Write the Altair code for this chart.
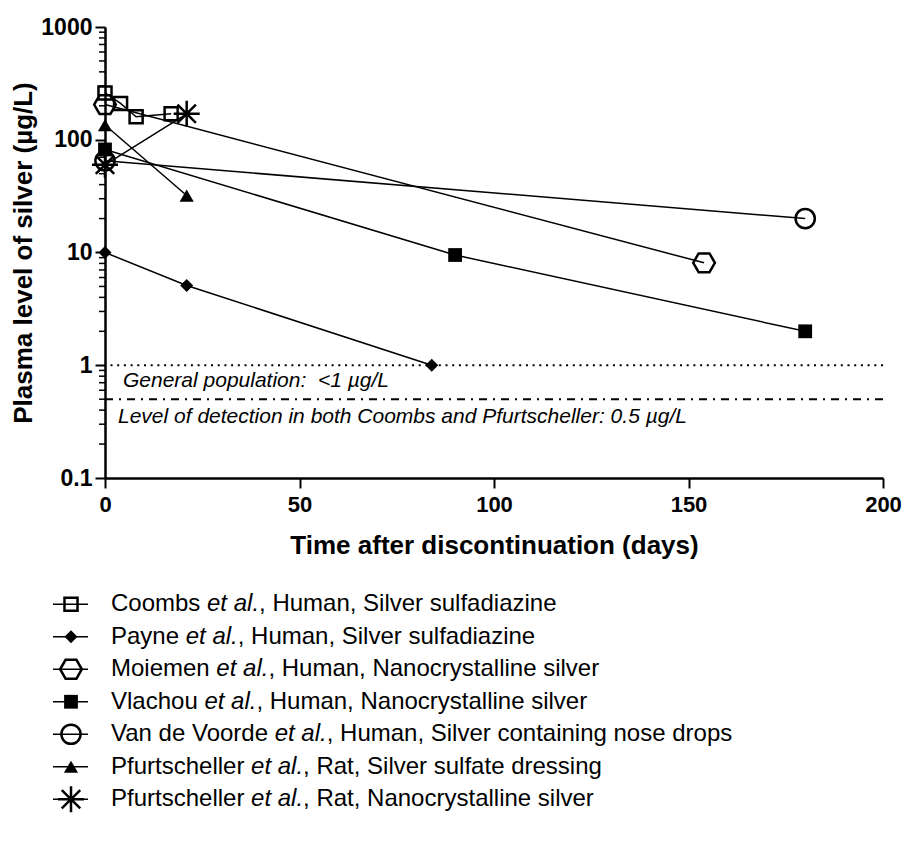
import altair as alt
import pandas as pd

# ---------------- data ----------------
authors = ["Coombs", "Payne", "Moiemen", "Vlachou", "Van de Voorde", "Pfurtscheller", "Pfurtscheller"]
details = [", Human, Silver sulfadiazine", ", Human, Silver sulfadiazine",
           ", Human, Nanocrystalline silver", ", Human, Nanocrystalline silver",
           ", Human, Silver containing nose drops", ", Rat, Silver sulfate dressing",
           ", Rat, Nanocrystalline silver"]

coombs_days = [0, 4, 8, 17]
coombs_vals = [260, 210, 160, 170]
payne_days = [0, 21, 84]
payne_vals = [10, 5.1, 1]
moiemen_days = [0, 154]
moiemen_vals = [205, 8.1]
vlachou_days = [0, 90, 180]
vlachou_vals = [82, 9.5, 2]
voorde_days = [0, 180]
voorde_vals = [65, 20]
pf_sulfate_days = [0, 21]
pf_sulfate_vals = [135, 32]
pf_nano_days = [0, 21]
pf_nano_vals = [60, 170]

y_ticks = [0.1, 1, 10, 100, 1000]
x_ticks = [0, 50, 100, 150, 200]
general_level = 1
detection_level = 0.5
general_text = "General population: \u00a0<1 µg/L"
detection_text = "Level of detection in both Coombs and Pfurtscheller: 0.5 µg/L"

# ---------------- styling ----------------
FONT = "Liberation Sans"
HEX = "M-1,0L-0.5,-0.866L0.5,-0.866L1,0L0.5,0.866L-0.5,0.866Z"
STAR = ("M-1,0L1,0M0,-1L0,1M-0.7071,-0.7071L0.7071,0.7071"
        "M-0.7071,0.7071L0.7071,-0.7071")
styles = [
    dict(shape="square", size=170, filled=False),
    dict(shape="diamond", size=170, filled=True),
    dict(shape=HEX, size=470, filled=False),
    dict(shape="square", size=190, filled=True),
    dict(shape="circle", size=370, filled=False),
    dict(shape="triangle-up", size=200, filled=True),
    dict(shape=STAR, size=680, filled=False),
]

series_days = [coombs_days, payne_days, moiemen_days, vlachou_days, voorde_days,
               pf_sulfate_days, pf_nano_days]
series_vals = [coombs_vals, payne_vals, moiemen_vals, vlachou_vals, voorde_vals,
               pf_sulfate_vals, pf_nano_vals]
keys = [f"s{i}" for i in range(len(authors))]

rows = []
for k, d, v in zip(keys, series_days, series_vals):
    for dd, vv in zip(d, v):
        rows.append({"key": k, "day": dd, "val": vv})
df = pd.DataFrame(rows)

minor = [m * 10.0 ** e for e in range(-1, 3) for m in range(2, 10)]
minor_df = pd.DataFrame({"v": minor})

W, H = 778, 451
xs = alt.Scale(domain=[0, 200], nice=False)
ys = alt.Scale(type="log", domain=[0.1, 1000], nice=False)

x_enc = alt.X("day:Q", scale=xs, axis=alt.Axis(
    values=x_ticks, title="Time after discontinuation (days)", format="d",
    tickSize=10, tickWidth=2, domainWidth=2.5, labelPadding=6, titlePadding=17,
    labelFontSize=22, labelFontWeight="bold", titleFontSize=26, titleFontWeight="bold",
    grid=False, labelFlush=False))
y_enc = alt.Y("val:Q", scale=ys, axis=alt.Axis(
    values=y_ticks, title="Plasma level of silver (µg/L)", format="~g",
    tickSize=10, tickWidth=2, domainWidth=2.5, labelPadding=3, titlePadding=4,
    labelFontSize=23, labelFontWeight="bold", titleFontSize=26, titleFontWeight="bold",
    grid=False, labelFlush=False))

base = alt.Chart(df)
lines = base.mark_line(color="black", strokeWidth=1.5).encode(
    x=x_enc, y=y_enc, detail="key:N", order="day:Q")

point_layers = []
for k, st in zip(keys, styles):
    p = base.transform_filter(alt.datum.key == k).mark_point(
        shape=st["shape"], size=st["size"], filled=st["filled"], color="black",
        strokeWidth=2.5, opacity=1, fill="black" if st["filled"] else "transparent"
    ).encode(x=alt.X("day:Q", scale=xs), y=alt.Y("val:Q", scale=ys))
    point_layers.append(p)

minor_ticks = alt.Chart(minor_df).mark_rule(color="black", strokeWidth=1.5).encode(
    y=alt.Y("v:Q", scale=ys), x=alt.value(0), x2=alt.value(-6))

gen_rule = alt.Chart(pd.DataFrame({"v": [general_level]})).mark_rule(
    color="black", strokeWidth=2, strokeDash=[2, 4.7]).encode(y=alt.Y("v:Q", scale=ys))
det_rule = alt.Chart(pd.DataFrame({"v": [detection_level]})).mark_rule(
    color="black", strokeWidth=2, strokeDash=[8, 6, 2, 6]).encode(y=alt.Y("v:Q", scale=ys))

gen_txt = alt.Chart(pd.DataFrame({"v": [general_level], "t": [general_text]})).mark_text(
    align="left", baseline="top", dy=5, fontSize=21, fontStyle="italic", font=FONT,
    color="black").encode(x=alt.value(18), y=alt.Y("v:Q", scale=ys), text="t:N")
det_txt = alt.Chart(pd.DataFrame({"v": [detection_level], "t": [detection_text]})).mark_text(
    align="left", baseline="top", dy=7, fontSize=21, fontStyle="italic", font=FONT,
    color="black").encode(x=alt.value(13), y=alt.Y("v:Q", scale=ys), text="t:N")

main = alt.layer(minor_ticks, gen_rule, det_rule, gen_txt, det_txt, lines, *point_layers
                 ).properties(width=W, height=H)

# ---------------- legend panel ----------------
AW = {" ": 278, ".": 278, ",": 278, "a": 556, "b": 556, "c": 500, "d": 556, "e": 556,
      "f": 278, "g": 556, "h": 556, "i": 222, "l": 222, "m": 833, "n": 556, "o": 556,
      "p": 556, "r": 333, "s": 500, "t": 278, "u": 556, "v": 500, "y": 500, "z": 500,
      "C": 722, "M": 833, "P": 667, "V": 667}
KERN = {"Va": -74, "Vo": -55}
LFS = 24


def tw(s):
    w = sum(AW.get(c, 556) for c in s)
    w += sum(KERN.get(s[i:i + 2], 0) for i in range(len(s) - 1))
    return w * LFS / 1000.0


TX0 = 6
leg_rows = []
for k, a, d in zip(keys, authors, details):
    et_x = TX0 + tw(a + " ")
    rest_x = et_x + tw("et al.")
    leg_rows.append({"key": k, "author": a, "etal": "et al.", "rest": d,
                     "et_x": et_x, "rest_x": rest_x})
leg_df = pd.DataFrame(leg_rows)

LH = 7 * 32.5
ly = alt.Y("key:N", sort=keys, scale=alt.Scale(type="point", padding=0.5), axis=None)
lbase = alt.Chart(leg_df)
leg_line = lbase.mark_rule(color="black", strokeWidth=1.5).encode(
    y=ly, x=alt.value(-52), x2=alt.value(-17))
leg_syms = []
for k, st in zip(keys, styles):
    leg_syms.append(lbase.transform_filter(alt.datum.key == k).mark_point(
        shape=st["shape"], size=st["size"], filled=st["filled"], color="black",
        strokeWidth=2.5, opacity=1, fill="black" if st["filled"] else "transparent"
    ).encode(y=ly, x=alt.value(-34)))
t1 = lbase.mark_text(align="left", baseline="middle", fontSize=LFS, font=FONT,
                     color="black").encode(y=ly, x=alt.value(TX0), text="author:N")
t2 = lbase.mark_text(align="left", baseline="middle", fontSize=LFS, font=FONT,
                     fontStyle="italic", color="black").encode(
    y=ly, x=alt.X("et_x:Q", scale=None), text="etal:N")
t3 = lbase.mark_text(align="left", baseline="middle", fontSize=LFS, font=FONT,
                     color="black").encode(
    y=ly, x=alt.X("rest_x:Q", scale=None), text="rest:N")
legend = alt.layer(leg_line, *leg_syms, t1, t2, t3).properties(width=W, height=LH)

chart = alt.vconcat(main, legend, spacing=110, bounds="flush").properties(
    padding={"left": 2, "top": 8, "right": 0, "bottom": 0}
).configure_view(stroke=None).configure_axis(
    labelFont=FONT, titleFont=FONT, labelColor="black", titleColor="black",
    domainColor="black", tickColor="black"
).configure_text(font=FONT)

chart.save("out.html", embed_options={"renderer": "svg", "actions": False})
